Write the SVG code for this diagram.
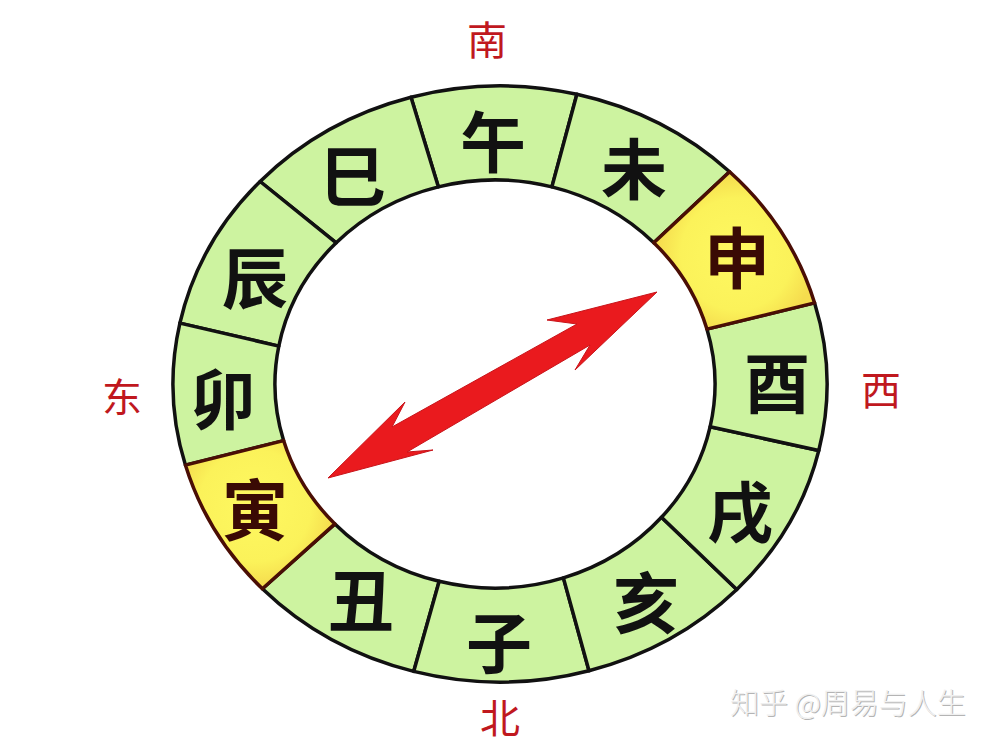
<svg xmlns="http://www.w3.org/2000/svg" width="998" height="745" viewBox="0 0 998 745">
<style>
.seg{fill:#cdf3a0;stroke:#111;stroke-width:3.5;stroke-linejoin:round}
.yel{stroke:#4a0e05;stroke-width:3.5;stroke-linejoin:round}
.lab{font-family:"Noto Sans CJK SC","Noto Sans CJK TC",sans-serif;font-weight:700;font-size:66px;fill:#111;text-anchor:middle;dominant-baseline:central}
.lab.dk{fill:#3a0a04}
.dir{font-family:"Noto Sans CJK SC",sans-serif;font-weight:400;font-size:40px;fill:#c0181e;text-anchor:middle;dominant-baseline:central}
.wm{font-family:"Noto Sans CJK SC",sans-serif;font-weight:300;font-size:29px}
</style>
<defs>
<radialGradient id="gY1" cx="737" cy="254" r="80" gradientUnits="userSpaceOnUse">
<stop offset="0" stop-color="#fef860"/><stop offset="0.7" stop-color="#fbf25a"/><stop offset="1" stop-color="#f5dc4e"/>
</radialGradient>
<radialGradient id="gY2" cx="255" cy="506" r="80" gradientUnits="userSpaceOnUse">
<stop offset="0" stop-color="#fef860"/><stop offset="0.7" stop-color="#fbf25a"/><stop offset="1" stop-color="#f5dc4e"/>
</radialGradient>
</defs>
<rect width="998" height="745" fill="#ffffff"/>
<g id="n-wu"><path class="seg" d="M551.9,186.9 L576.9,94.3 A327,298 0 0 0 411.0,97.3 L438.4,186.9 A220,204 0 0 1 551.9,186.9Z"/><text class="lab" x="493" y="138">午</text></g>
<g id="n-wei"><path class="seg" d="M653.8,242.8 L729.6,171.8 A327,298 0 0 0 576.9,94.3 L551.9,186.9 A220,204 0 0 1 653.8,242.8Z"/><text class="lab" x="634" y="165">未</text></g>
<g id="n-si"><path class="seg" d="M438.4,186.9 L411.0,97.3 A327,298 0 0 0 260.1,181.5 L336.2,242.8 A220,204 0 0 1 438.4,186.9Z"/><text class="lab" x="353" y="172">巳</text></g>
<g id="n-chen"><path class="seg" d="M336.2,242.8 L260.1,181.5 A327,298 0 0 0 179.9,323.1 L278.8,346.1 A220,204 0 0 1 336.2,242.8Z"/><text class="lab" x="255" y="274">辰</text></g>
<g id="n-mao"><path class="seg" d="M278.8,346.1 L179.9,323.1 A327,298 0 0 0 185.4,465.1 L283.6,440.6 A220,204 0 0 1 278.8,346.1Z"/><text class="lab" x="223" y="395">卯</text></g>
<g id="n-chou"><path class="seg" d="M334.9,523.9 L262.4,588.8 A327,298 0 0 0 413.7,671.4 L439.2,581.3 A220,204 0 0 1 334.9,523.9Z"/><text class="lab" x="361" y="597">丑</text></g>
<g id="n-zi"><path class="seg" d="M439.2,581.3 L413.7,671.4 A327,298 0 0 0 589.0,670.7 L563.4,577.9 A220,204 0 0 1 439.2,581.3Z"/><text class="lab" x="499" y="639">子</text></g>
<g id="n-hai"><path class="seg" d="M563.4,577.9 L589.0,670.7 A327,298 0 0 0 736.8,589.5 L661.5,517.3 A220,204 0 0 1 563.4,577.9Z"/><text class="lab" x="646" y="599">亥</text></g>
<g id="n-xu"><path class="seg" d="M661.5,517.3 L736.8,589.5 A327,298 0 0 0 818.8,450.5 L710.1,426.8 A220,204 0 0 1 661.5,517.3Z"/><text class="lab" x="740" y="508">戌</text></g>
<g id="n-you"><path class="seg" d="M710.1,426.8 L818.8,450.5 A327,298 0 0 0 814.6,302.9 L706.9,329.1 A220,204 0 0 1 710.1,426.8Z"/><text class="lab" x="777" y="379">酉</text></g>
<g id="n-shen"><path class="yel" fill="url(#gY1)" d="M706.9,329.1 L814.6,302.9 A327,298 0 0 0 729.6,171.8 L653.8,242.8 A220,204 0 0 1 706.9,329.1Z"/><text class="lab dk" x="737" y="254">申</text></g>
<g id="n-yin"><path class="yel" fill="url(#gY2)" d="M283.6,440.6 L185.4,465.1 A327,298 0 0 0 262.4,588.8 L334.9,523.9 A220,204 0 0 1 283.6,440.6Z"/><text class="lab dk" x="255" y="506">寅</text></g>
<g id="connectors">
<polygon fill="#ea1a1e" stroke="#c8141a" stroke-width="1" stroke-linejoin="miter" points="657,292 547,320 577,324 392,427 405,402 328,478 433,450 407,452 590,345 575,370"/>
</g>
<g id="directions">
<text class="dir" x="487" y="38">南</text>
<text class="dir" x="500" y="716">北</text>
<text class="dir" x="122" y="395">东</text>
<text class="dir" x="881" y="388">西</text>
</g>
<g id="watermark">
<text class="wm" x="731" y="715" fill="#b4b4b4">知乎 @周易与人生</text>
<text class="wm" x="730" y="714" fill="#f0f0f0">知乎 @周易与人生</text>
</g>
</svg>
